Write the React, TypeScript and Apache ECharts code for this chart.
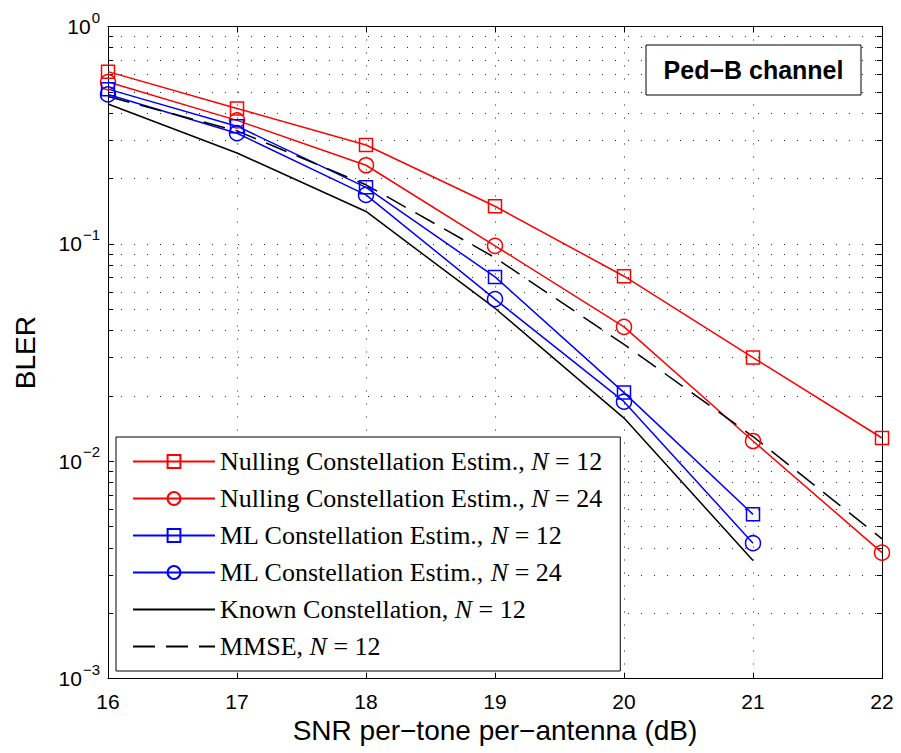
import React, { useEffect, useRef } from "react";
import * as echarts from "echarts";

const snr = [16, 17, 18, 19, 20, 21, 22];
const nulling12 = [0.62, 0.42, 0.285, 0.149, 0.071, 0.03, 0.0128];
const nulling24 = [0.555, 0.37, 0.23, 0.098, 0.0415, 0.0124, 0.0038];
const ml12 = [0.515, 0.348, 0.182, 0.0705, 0.0207, 0.0057];
const ml24 = [0.487, 0.323, 0.168, 0.0557, 0.0188, 0.0042];
const known12 = [0.44, 0.262, 0.141, 0.0506, 0.0158, 0.0035];
const mmse12 = [0.476, 0.331, 0.187, 0.0864, 0.0345, 0.013, 0.0044];

const seriesNames = [
  "Nulling Constellation Estim., N = 12",
  "Nulling Constellation Estim., N = 24",
  "ML Constellation Estim., N = 12",
  "ML Constellation Estim., N = 24",
  "Known Constellation, N = 12",
  "MMSE, N = 12",
];

const xTitle = "SNR per\u2212tone per\u2212antenna (dB)";
const yTitle = "BLER";
const boxLabel = "Ped\u2212B channel";

const minorValues: number[] = [];
[0.001, 0.01, 0.1].forEach((d) => {
  for (let k = 2; k <= 9; k++) minorValues.push(+(d * k).toPrecision(3));
});

const pairs = (ys: number[]) => ys.map((y, i) => [snr[i], y]);

export default function App() {
  const ref = useRef<HTMLDivElement>(null);
  useEffect(() => {
    if (!ref.current) return;
    const chart = echarts.init(ref.current, null, { renderer: "svg" });
    const dotted = { type: [1, 12] as any, color: "#222", width: 1 };
    const tickLen = 0.04;
    const markData: any[] = [];
    minorValues.forEach((v) => {
      markData.push([
        { coord: [16, v], lineStyle: dotted },
        { coord: [22, v] },
      ]);
      markData.push([
        { coord: [16, v], lineStyle: { type: "solid", color: "#000", width: 1 } },
        { coord: [16 + tickLen, v] },
      ]);
      markData.push([
        { coord: [22 - tickLen, v], lineStyle: { type: "solid", color: "#000", width: 1 } },
        { coord: [22, v] },
      ]);
    });

    const mk = (
      name: string,
      ys: number[],
      color: string,
      symbol: string,
      dash?: any
    ): any => ({
      name,
      type: "line",
      data: pairs(ys),
      symbol,
      symbolSize: symbol === "circle" ? 15 : symbol === "rect" ? 13 : 0,
      showSymbol: symbol !== "none",
      lineStyle: { color, width: 1.5, type: dash || "solid" },
      itemStyle: { color: "rgba(0,0,0,0)", borderColor: color, borderWidth: 1.5 },
      z: 3,
    });

    const series: any[] = [
      mk(seriesNames[0], nulling12, "#ff0000", "rect"),
      mk(seriesNames[1], nulling24, "#ff0000", "circle"),
      mk(seriesNames[2], ml12, "#0000ff", "rect"),
      mk(seriesNames[3], ml24, "#0000ff", "circle"),
      mk(seriesNames[4], known12, "#000000", "none"),
      mk(seriesNames[5], mmse12, "#000000", "none", [22, 11]),
    ];
    series[4].markLine = {
      silent: true,
      symbol: ["none", "none"],
      label: { show: false },
      emphasis: { disabled: true },
      z: 1,
      data: markData,
    };

    const superscriptFmt = (v: number) => {
      const e = Math.round(Math.log10(v));
      const s = e < 0 ? "\u2212" + Math.abs(e) : String(e);
      return `{b|10}{s|${s}}`;
    };

    const legendData = seriesNames.map((name, i) =>
      i >= 4
        ? { name, itemStyle: { color: "rgba(0,0,0,0)", borderColor: "rgba(0,0,0,0)", borderWidth: 0, opacity: 0 } }
        : { name }
    );

    chart.setOption({
      animation: false,
      backgroundColor: "#fff",
      grid: { left: 108, top: 26.5, right: 19, bottom: 74.3, containLabel: false },
      legend: {
        orient: "vertical",
        left: 116,
        top: 437,
        data: legendData,
        backgroundColor: "#fff",
        borderColor: "#000",
        borderWidth: 1,
        padding: [11.5, 18, 11.5, 16],
        itemGap: 11,
        itemWidth: 82,
        itemHeight: 16,
        selectedMode: false,
        formatter: (name: string) => name.replace("N = ", "{i|N} = "),
        textStyle: {
          fontFamily: "Liberation Serif",
          fontSize: 26,
          color: "#000",
          lineHeight: 26,
          rich: {
            i: { fontFamily: "Liberation Serif", fontStyle: "italic", fontSize: 26, color: "#000", lineHeight: 26 },
          },
        },
      },
      xAxis: [
        {
          type: "value",
          min: 16,
          max: 22,
          interval: 1,
          name: xTitle,
          nameLocation: "middle",
          nameGap: 37,
          nameTextStyle: { fontFamily: "Liberation Sans", fontSize: 28, color: "#000" },
          axisLine: { show: true, lineStyle: { color: "#000", width: 1 } },
          axisTick: { show: true, inside: true, length: 6, lineStyle: { color: "#000" } },
          axisLabel: { fontFamily: "Liberation Sans", fontSize: 21, color: "#000", margin: 12 },
          splitLine: { show: true, lineStyle: dotted },
        },
        {
          type: "value",
          position: "top",
          min: 16,
          max: 22,
          interval: 1,
          axisLine: { show: true, lineStyle: { color: "#000", width: 1 } },
          axisTick: { show: true, inside: true, length: 6, lineStyle: { color: "#000" } },
          axisLabel: { show: false },
          splitLine: { show: false },
        },
      ],
      yAxis: [
        {
          type: "log",
          logBase: 10,
          min: 0.001,
          max: 1,
          name: yTitle,
          nameLocation: "middle",
          nameGap: 69,
          nameTextStyle: { fontFamily: "Liberation Sans", fontSize: 28, color: "#000" },
          axisLine: { show: true, lineStyle: { color: "#000", width: 1 } },
          axisTick: { show: true, inside: true, length: 6, lineStyle: { color: "#000" } },
          axisLabel: {
            margin: 8,
            formatter: superscriptFmt,
            rich: {
              b: { fontFamily: "Liberation Sans", fontSize: 21, color: "#000", lineHeight: 22, padding: [10, 0, 10, 0] },
              s: { fontFamily: "Liberation Sans", fontSize: 15, color: "#000", lineHeight: 15, padding: [4, 0, 23, 1] },
            },
          },
          splitLine: { show: true, lineStyle: dotted },
        },
        {
          type: "log",
          logBase: 10,
          position: "right",
          min: 0.001,
          max: 1,
          axisLine: { show: true, lineStyle: { color: "#000", width: 1 } },
          axisTick: { show: true, inside: true, length: 6, lineStyle: { color: "#000" } },
          axisLabel: { show: false },
          splitLine: { show: false },
        },
      ],
      graphic: [
        {
          type: "rect",
          shape: { x: 646, y: 45, width: 215, height: 50 },
          style: { fill: "#fff", stroke: "#000", lineWidth: 1 },
          z: 10,
        },
        {
          type: "text",
          x: 753.5,
          y: 70,
          style: {
            text: boxLabel,
            fontFamily: "Liberation Sans",
            fontWeight: "bold",
            fontSize: 25,
            fill: "#000",
            align: "center",
            verticalAlign: "middle",
          },
          z: 11,
        },
      ],
      series,
    });
    return () => chart.dispose();
  }, []);
  return <div ref={ref} style={{ width: 901, height: 753, position: "absolute", left: 0, top: 0 }} />;
}
